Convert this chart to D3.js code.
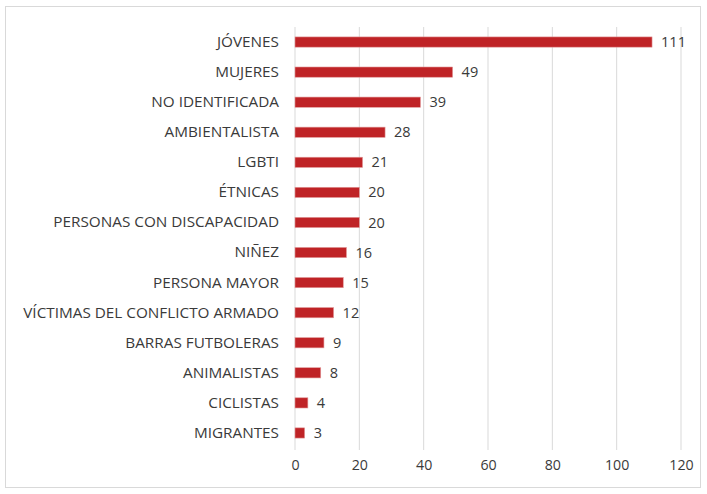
<!DOCTYPE html>
<html><head><meta charset="utf-8">
<script src="https://cdn.jsdelivr.net/npm/d3@7"></script>
<style>body{margin:0;background:#fff}svg{display:block}</style>
</head><body><svg id="c" width="707" height="494"></svg>
<script>
const categories = ["JÓVENES","MUJERES","NO IDENTIFICADA","AMBIENTALISTA","LGBTI","ÉTNICAS","PERSONAS CON DISCAPACIDAD","NIÑEZ","PERSONA MAYOR","VÍCTIMAS DEL CONFLICTO ARMADO","BARRAS FUTBOLERAS","ANIMALISTAS","CICLISTAS","MIGRANTES"];
const values = [111,49,39,28,21,20,20,16,15,12,9,8,4,3];
const ticks = [0,20,40,60,80,100,120];

const svg = d3.select("#c");
const font = "'Open Sans', sans-serif";
svg.append("rect").attr("x",5.5).attr("y",6.5).attr("width",695).attr("height",481)
  .attr("fill","#fff").attr("stroke","#d9d9d9");

const x = d3.scaleLinear().domain([0,120]).range([295,681]);
const y = d3.scaleBand().domain(categories).range([27,448]).paddingInner(0.66).paddingOuter(0.33);

const g = svg.append("g");
g.selectAll("line.grid").data(ticks).join("line").attr("class","grid")
  .attr("x1",d=>x(d)).attr("x2",d=>x(d)).attr("y1",27).attr("y2",450)
  .attr("stroke","#d9d9d9").attr("stroke-width",1);

const xAxis = d3.axisBottom(x).tickValues(ticks).tickSize(0).tickPadding(0);
const ax = svg.append("g").attr("transform","translate(0,460)").call(xAxis);
ax.select(".domain").remove();
ax.selectAll("text").attr("font-family",font).attr("font-size",14.2).attr("fill","#3a3a3a").attr("dy","0.71em");

const yAxis = d3.axisLeft(y).tickSize(0).tickPadding(0);
const ay = svg.append("g").attr("transform","translate(279,0)").call(yAxis);
ay.select(".domain").remove();
ay.selectAll("text").attr("font-family",font).attr("font-size",15.3).attr("fill","#3a3a3a");

g.selectAll("rect.bar").data(values).join("rect").attr("class","bar")
  .attr("x",x(0)).attr("y",(d,i)=>y(categories[i]))
  .attr("width",d=>x(d)-x(0)).attr("height",y.bandwidth())
  .attr("fill","#bf2326").attr("stroke","#e29a9a").attr("stroke-width",0.6);

g.selectAll("text.val").data(values).join("text").attr("class","val")
  .attr("x",d=>x(d)+9).attr("y",(d,i)=>y(categories[i])+y.bandwidth()/2)
  .attr("dy","0.35em").attr("font-family",font).attr("font-size",14.5).attr("fill","#3a3a3a")
  .text(d=>d);
</script></body></html>
